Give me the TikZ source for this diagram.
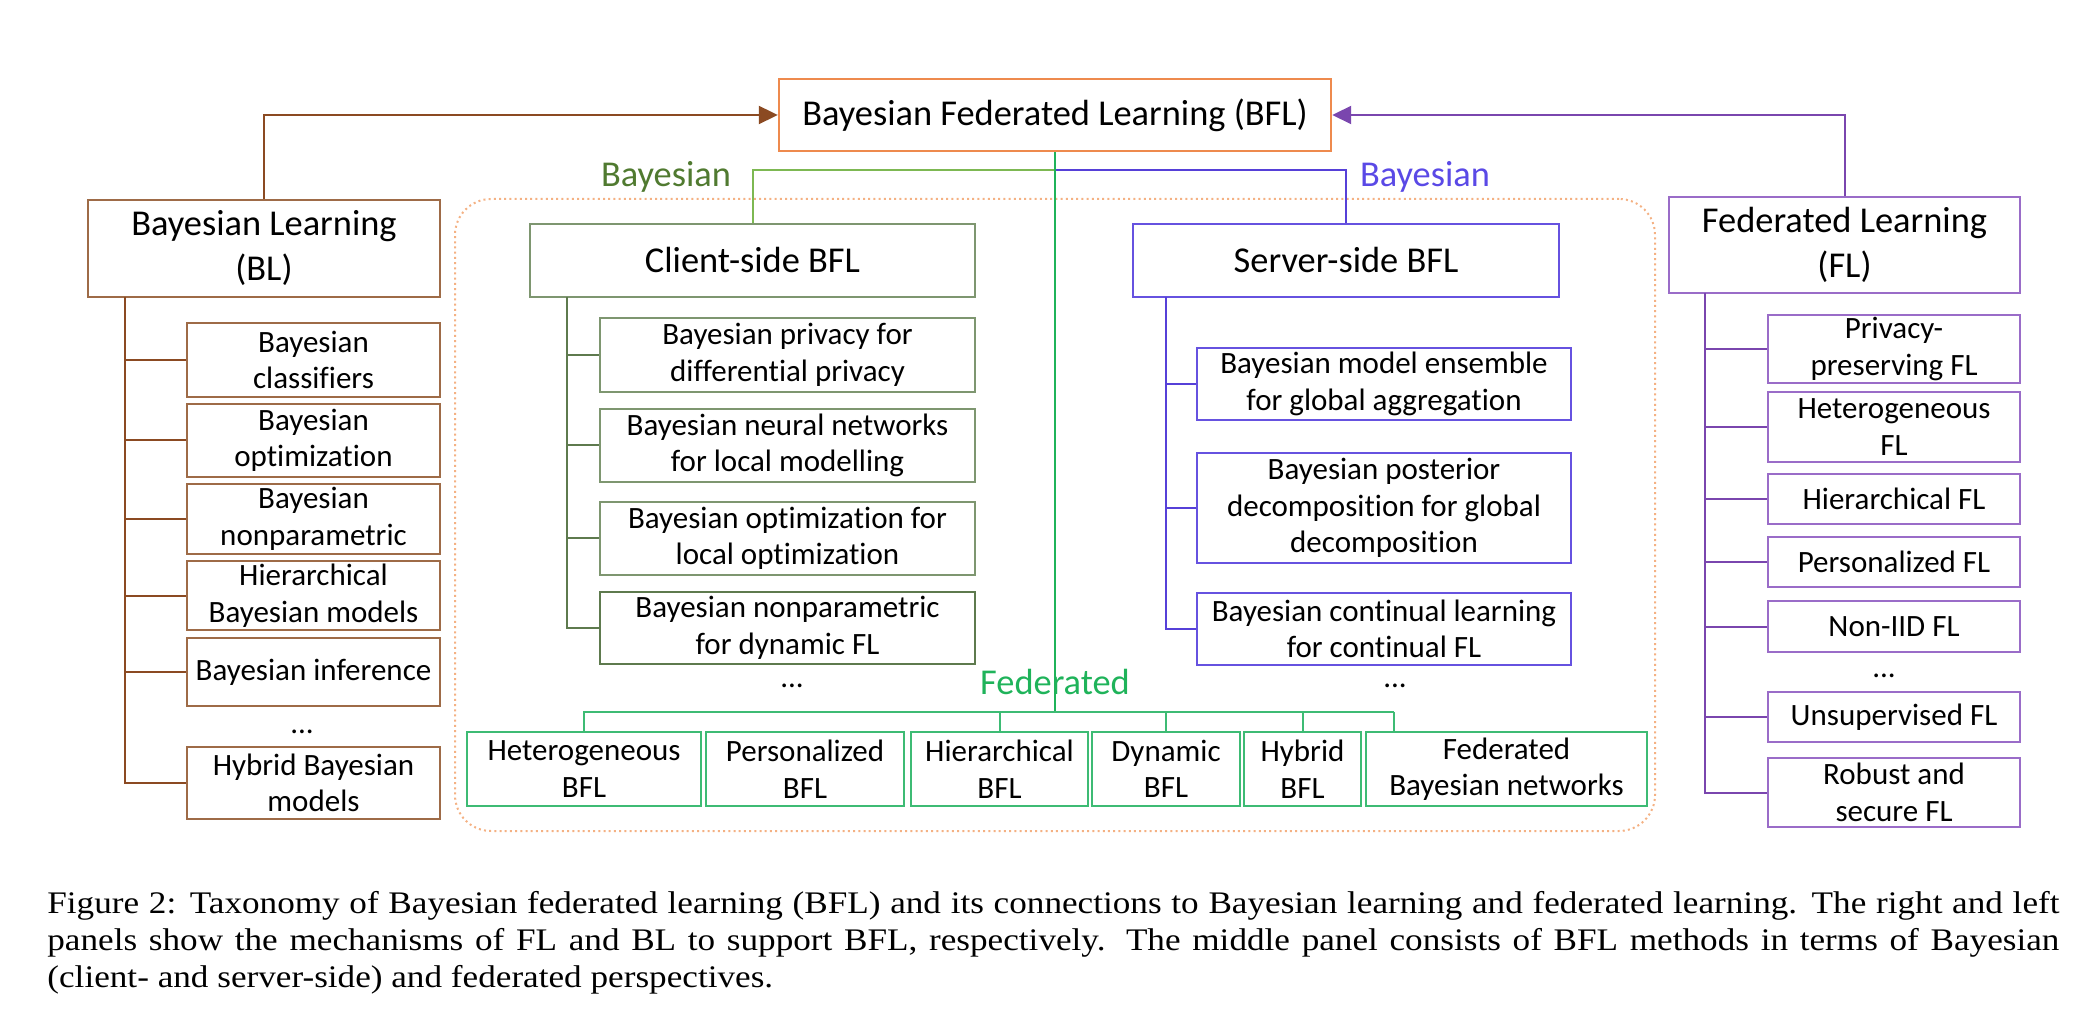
\documentclass[tikz,border=0pt]{standalone}
\usepackage{fontspec}
\setmainfont{Carlito}[Ligatures=NoCommon]
\newfontfamily\capfont{Liberation Serif}
\usetikzlibrary{arrows.meta}

\definecolor{blbrown}{HTML}{9E6B47}
\definecolor{bldark}{HTML}{8B4A22}
\definecolor{bflorange}{HTML}{EE8A4E}
\definecolor{panelorange}{HTML}{F4B183}
\definecolor{cligreen}{HTML}{7E9670}
\definecolor{clidark}{HTML}{5E7A4E}
\definecolor{clilink}{HTML}{7DB852}
\definecolor{baygreen}{HTML}{507A30}
\definecolor{fedgreen}{HTML}{1FB35A}
\definecolor{fedbox}{HTML}{3DBB74}
\definecolor{srvblue}{HTML}{6652E0}
\definecolor{srvdark}{HTML}{5640D8}
\definecolor{baypurple}{HTML}{5A49E6}
\definecolor{flpurple}{HTML}{9A6CC8}
\definecolor{fldark}{HTML}{7A46AE}

% box of given corners: name, x1, y1, x2, y2, style, text
\newcommand\placebox[7]{%
  \node[#6,minimum width={(#4-#2)*0.5pt},minimum height={(#5-#3)*0.5pt}]
    (#1) at ({(#2+#4)/2},{(#3+#5)/2}) {#7};}
\newcommand\capline[1]{\scalebox{1.12}[1]{#1}}

\begin{document}
\begin{tikzpicture}[x=0.5pt,y=-0.5pt,
  box/.style={draw,line width=1.2pt,inner sep=0pt,align=center,text=black},
  titlebox/.style={box,font=\fontsize{18.2}{22.5}\selectfont},
  itembox/.style={box,line width=1.1pt,font=\fontsize{15.5}{18.25}\selectfont},
  biglabel/.style={anchor=base,inner sep=0pt,font=\fontsize{18.2}{22.5}\selectfont},
  more/.style={anchor=base,inner sep=0pt,font=\fontsize{15.5}{18.25}\selectfont},
  link/.style={line width=1pt},
  tip/.style={-{Triangle[length=9.5pt,width=9pt]}},
  panel/.style={draw=panelorange,line width=1pt,dash pattern=on 1pt off 1.6pt,
    rounded corners=18pt,inner sep=0pt},
  capstyle/.style={anchor=base west,inner sep=0pt,
    font=\capfont\fontsize{15.7}{18.5}\selectfont}
]
\useasboundingbox (0,0) rectangle (2096,1036);

% dotted panel holding the BFL methods
\node[panel,minimum width=600pt,minimum height=316pt] (panel) at (1055,515) {};

% top-level boxes
\placebox{bfl}{779}{79}{1331}{151}{titlebox,draw=bflorange}{Bayesian Federated Learning (BFL)}
\placebox{bl}{88}{200}{440}{297}{titlebox,draw=blbrown}{Bayesian Learning\\(BL)}
\placebox{fl}{1669}{197}{2020}{293}{titlebox,draw=flpurple}{Federated Learning\\(FL)}
\placebox{cli}{530}{224}{975}{297}{titlebox,draw=cligreen}{Client-side BFL}
\placebox{srv}{1133}{224}{1559}{297}{titlebox,draw=srvblue}{Server-side BFL}

% Bayesian learning branch
\placebox{bl1}{187}{323}{440}{397}{itembox,draw=blbrown}{Bayesian\\classifiers}
\placebox{bl2}{187}{404}{440}{477}{itembox,draw=blbrown}{Bayesian\\optimization}
\placebox{bl3}{187}{484}{440}{554}{itembox,draw=blbrown}{Bayesian\\nonparametric}
\placebox{bl4}{187}{561}{440}{630}{itembox,draw=blbrown}{Hierarchical\\Bayesian models}
\placebox{bl5}{187}{638}{440}{706}{itembox,draw=blbrown}{Bayesian inference}
\placebox{bl6}{187}{747}{440}{819}{itembox,draw=blbrown}{Hybrid Bayesian\\models}
\node[more] (bldots) at (302,733) {...};

% client-side methods
\placebox{c1}{600}{318}{975}{392}{itembox,draw=cligreen}{Bayesian privacy for\\differential privacy}
\placebox{c2}{600}{409}{975}{482}{itembox,draw=cligreen}{Bayesian neural networks\\for local modelling}
\placebox{c3}{600}{502}{975}{575}{itembox,draw=cligreen}{Bayesian optimization for\\local optimization}
\placebox{c4}{600}{592}{975}{664}{itembox,draw=clidark}{Bayesian nonparametric\\for dynamic FL}
\node[more] (clidots) at (792,687) {...};

% server-side methods
\placebox{s1}{1197}{348}{1571}{420}{itembox,draw=srvblue}{Bayesian model ensemble\\for global aggregation}
\placebox{s2}{1197}{453}{1571}{563}{itembox,draw=srvblue}{Bayesian posterior\\decomposition for global\\decomposition}
\placebox{s3}{1197}{593}{1571}{665}{itembox,draw=srvblue}{Bayesian continual learning\\for continual FL}
\node[more] (srvdots) at (1395,687) {...};

% federated learning branch
\placebox{f1}{1768}{315}{2020}{383}{itembox,draw=flpurple}{Privacy-\\preserving FL}
\placebox{f2}{1768}{392}{2020}{462}{itembox,draw=flpurple}{Heterogeneous\\FL}
\placebox{f3}{1768}{474}{2020}{524}{itembox,draw=flpurple}{Hierarchical FL}
\placebox{f4}{1768}{537}{2020}{587}{itembox,draw=flpurple}{Personalized FL}
\placebox{f5}{1768}{601}{2020}{652}{itembox,draw=flpurple}{Non-IID FL}
\placebox{f6}{1768}{692}{2020}{742}{itembox,draw=flpurple}{Unsupervised FL}
\placebox{f7}{1768}{758}{2020}{827}{itembox,draw=flpurple}{Robust and\\secure FL}
\node[more] (fldots) at (1884,677) {...};

% federated-perspective methods
\placebox{b1}{467}{732}{701}{806}{itembox,draw=fedbox}{Heterogeneous\\BFL}
\placebox{b2}{706}{732}{904}{806}{itembox,draw=fedbox}{Personalized\\BFL}
\placebox{b3}{911}{732}{1088}{806}{itembox,draw=fedbox}{Hierarchical\\BFL}
\placebox{b4}{1092}{732}{1240}{806}{itembox,draw=fedbox}{Dynamic\\BFL}
\placebox{b5}{1244}{732}{1361}{806}{itembox,draw=fedbox}{Hybrid\\BFL}
\placebox{b6}{1366}{732}{1647}{806}{itembox,draw=fedbox}{Federated\\Bayesian networks}

% tree trunks and junctions
\coordinate (blT) at (124.5,297);
\coordinate (cliT) at (567,297);
\coordinate (srvT) at (1166,297);
\coordinate (flT) at (1705,293);
\coordinate (bayfork) at (1055,170);
\coordinate (fedfork) at (1055,712);
\coordinate (fedend) at (1394,712);

% links into BFL
\draw[link,draw=bldark,tip] (bl.north) |- (bfl.west);
\draw[link,draw=fldark,tip] (fl.north) |- (bfl.east);

% Bayesian learning tree
\draw[link,draw=bldark] (blT) |- (bl6.west);
\foreach \n in {bl1,bl2,bl3,bl4,bl5}
  \draw[link,draw=bldark] (blT |- \n.west) -- (\n.west);

% federated learning tree
\draw[link,draw=fldark] (flT) |- (f7.west);
\foreach \n in {f1,f2,f3,f4,f5,f6}
  \draw[link,draw=fldark] (flT |- \n.west) -- (\n.west);

% client-side tree
\draw[link,draw=clidark] (cliT) |- (c4.west);
\foreach \n in {c1,c2,c3}
  \draw[link,draw=clidark] (cliT |- \n.west) -- (\n.west);

% server-side tree
\draw[link,draw=srvdark] (srvT) |- (s3.west);
\foreach \n in {s1,s2}
  \draw[link,draw=srvdark] (srvT |- \n.west) -- (\n.west);

% Bayesian perspective fork
\draw[link,draw=clilink] (bayfork) -| (cli.north);
\draw[link,draw=srvdark] (bayfork) -| (srv.north);

% federated perspective fork
\draw[link,draw=fedgreen] (bfl.south) -- (fedfork);
\draw[link,draw=fedbox] (b1.north) |- (fedend);
\draw[link,draw=fedbox] (fedend) -- (fedend |- b6.north);
\foreach \n in {b3,b4,b5}
  \draw[link,draw=fedbox] (\n.north) -- (\n.north |- fedfork);

% perspective labels
\node[biglabel,text=baygreen] (bayL) at (666,187) {Bayesian};
\node[biglabel,text=baypurple] (bayR) at (1425,187) {Bayesian};
\node[biglabel,text=fedgreen] (fedlab) at (1055,694) {Federated};

% caption
\node[capstyle] (cap1) at (47,913) {\capline{\makebox[898.2pt][s]{Figure 2: Taxonomy of Bayesian federated learning (BFL) and its connections to Bayesian learning and federated learning. The right and left}}};
\node[capstyle] (cap2) at (47,950) {\capline{\makebox[898.2pt][s]{panels show the mechanisms of FL and BL to support BFL, respectively. The middle panel consists of BFL methods in terms of Bayesian}}};
\node[capstyle] (cap3) at (47,987) {\capline{(client- and server-side) and federated perspectives.}};
\end{tikzpicture}
\end{document}
